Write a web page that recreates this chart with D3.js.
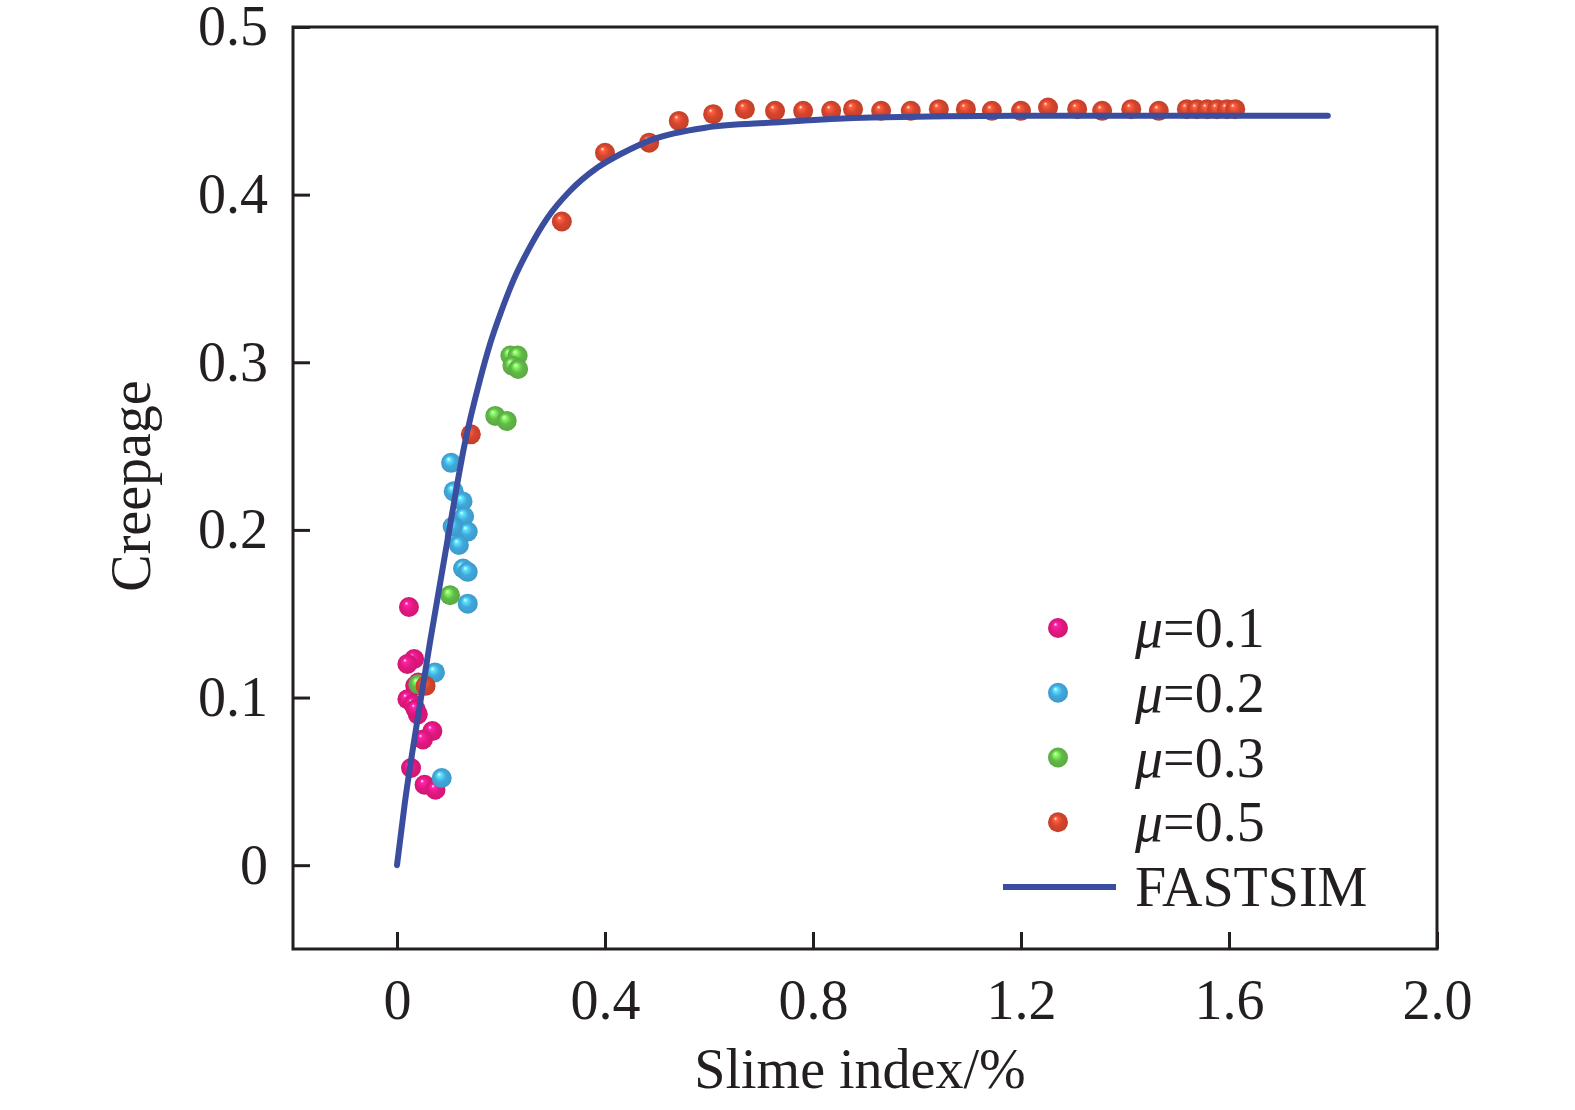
<html>

<head>
    <meta charset="utf-8">
    <style>
        html, body {
            margin: 0;
            overflow: hidden;
            background: #ffffff;
            font-family: "Liberation Serif", "DejaVu Serif", serif;
        }
        svg { display: block; }
    </style>
    <script src="https://cdn.jsdelivr.net/npm/d3@7"></script>
</head>

<body>
    <svg id="Grafico"></svg>

<script>
    // datos: [indice de lodo %, creepage]
    let puntosMu01 = [
        [0.023, 0.154], [0.033, 0.123], [0.020, 0.120], [0.035, 0.107], [0.041, 0.109],
        [0.020, 0.099], [0.031, 0.096], [0.040, 0.090], [0.036, 0.093], [0.068, 0.080],
        [0.050, 0.075], [0.027, 0.058], [0.053, 0.048], [0.074, 0.045]
    ];
    let puntosMu02 = [
        [0.104, 0.240], [0.109, 0.223], [0.126, 0.217], [0.111, 0.196], [0.129, 0.208],
        [0.136, 0.199], [0.119, 0.191], [0.107, 0.202], [0.127, 0.177], [0.136, 0.175],
        [0.136, 0.156], [0.073, 0.115], [0.086, 0.052]
    ];
    let puntosMu03 = [
        [0.218, 0.304], [0.232, 0.304], [0.222, 0.298], [0.233, 0.296], [0.189, 0.268],
        [0.211, 0.265], [0.102, 0.161], [0.041, 0.108]
    ];
    let puntosMu05 = [
        [0.142, 0.257], [0.055, 0.107], [0.317, 0.384], [0.400, 0.425], [0.485, 0.431],
        [0.542, 0.444], [0.608, 0.448], [0.669, 0.451], [0.727, 0.450], [0.781, 0.450],
        [0.835, 0.450], [0.877, 0.451], [0.931, 0.450], [0.988, 0.450], [1.042, 0.451],
        [1.094, 0.451], [1.144, 0.450], [1.200, 0.450], [1.252, 0.452], [1.308, 0.451],
        [1.356, 0.450], [1.412, 0.451], [1.465, 0.450], [1.519, 0.451], [1.538, 0.451],
        [1.558, 0.451], [1.577, 0.451], [1.596, 0.451], [1.612, 0.451]
    ];
    let curvaFastsim = [
        [0, 0], [0.015, 0.037], [0.040, 0.088], [0.064, 0.134], [0.100, 0.199],
        [0.130, 0.251], [0.160, 0.290], [0.180, 0.312], [0.200, 0.330], [0.224, 0.349],
        [0.256, 0.369], [0.289, 0.386], [0.332, 0.402], [0.385, 0.416], [0.435, 0.425],
        [0.492, 0.433], [0.595, 0.440], [0.724, 0.443], [0.913, 0.446], [1.200, 0.447],
        [1.790, 0.447]
    ];

    let ticksX = [0, 0.4, 0.8, 1.2, 1.6, 2.0];
    let etiquetasX = ["0", "0.4", "0.8", "1.2", "1.6", "2.0"];
    let ticksY = [0, 0.1, 0.2, 0.3, 0.4, 0.5];
    let etiquetasY = ["0", "0.1", "0.2", "0.3", "0.4", "0.5"];

    let series = ["μ=0.1", "μ=0.2", "μ=0.3", "μ=0.5"];
    let colores = ["#e3187f", "#42a8dc", "#62b948", "#d5452d"];
    let nombreCurva = "FASTSIM";

    let tamanoLetra = "56px";

    function configuracionGrafico () {
        let ancho = 1575;
        let alto = 1110;
        let margenes = { left: 293, top: 27, right: 1575 - 1437, bottom: 1110 - 949 };
        let anchuraCuerpo = ancho - margenes.left - margenes.right;
        let alturaCuerpo = alto - margenes.top - margenes.bottom;

        let contenedor = d3.select("#Grafico")
            .attr("width", ancho)
            .attr("height", alto);

        return { ancho, alto, margenes, anchuraCuerpo, alturaCuerpo, contenedor };
    }

    function escalasGrafico (configuracion) {
        let { anchuraCuerpo, alturaCuerpo } = configuracion;
        let escalaX = d3.scaleLinear().domain([-0.2, 2.0]).range([0, anchuraCuerpo]);
        let escalaY = d3.scaleLinear().domain([-0.05, 0.5]).range([alturaCuerpo, 0]);
        return { escalaX, escalaY };
    }

    function definirGradientes (contenedor) {
        //un degradado radial por color para que los puntos parezcan esferas
        let defs = contenedor.append("defs");
        colores.forEach((c, i) => {
            let g = defs.append("radialGradient")
                .attr("id", "esfera" + i)
                .attr("cx", "50%").attr("cy", "50%").attr("r", "50%")
                .attr("fx", "36%").attr("fy", "30%");
            g.append("stop").attr("offset", "0%").attr("stop-color", "#ffffff");
            g.append("stop").attr("offset", "18%").attr("stop-color", d3.color(c).brighter(0.9));
            g.append("stop").attr("offset", "55%").attr("stop-color", c);
            g.append("stop").attr("offset", "100%").attr("stop-color", d3.color(c).darker(0.25));
        });
    }

    function dibujarEjes (cuerpo, escalas, configuracion) {
        let { escalaX, escalaY } = escalas;
        let { anchuraCuerpo, alturaCuerpo } = configuracion;

        let ejeX = d3.axisBottom(escalaX).tickValues(ticksX)
            .tickSize(-17).tickPadding(30)
            .tickFormat((d, i) => etiquetasX[i]);
        let gX = cuerpo.append("g")
            .attr("transform", `translate(0,${alturaCuerpo})`)
            .call(ejeX);

        let ejeY = d3.axisLeft(escalaY).tickValues(ticksY)
            .tickSize(-17).tickPadding(25)
            .tickFormat((d, i) => etiquetasY[i]);
        let gY = cuerpo.append("g").call(ejeY);

        [gX, gY].forEach(g => {
            g.select(".domain").remove();
            g.selectAll("line").attr("stroke", "#231f20").attr("stroke-width", 3);
            g.selectAll("text")
                .attr("fill", "#231f20")
                .style("font-family", "'Liberation Serif', serif")
                .style("font-size", tamanoLetra);
        });

        //marco completo
        cuerpo.append("rect")
            .attr("width", anchuraCuerpo).attr("height", alturaCuerpo)
            .attr("fill", "none")
            .attr("stroke", "#231f20").attr("stroke-width", 3);
    }

    function dibujarPuntos (cuerpo, escalas) {
        let { escalaX, escalaY } = escalas;
        let grupos = [puntosMu01, puntosMu02, puntosMu03, puntosMu05];
        grupos.forEach((datos, i) => {
            cuerpo.append("g").selectAll("circle")
                .data(datos)
                .enter().append("circle")
                    .attr("cx", d => escalaX(d[0]))
                    .attr("cy", d => escalaY(d[1]))
                    .attr("r", 10)
                    .attr("fill", `url(#esfera${i})`);
        });
    }

    function dibujarCurva (cuerpo, escalas) {
        let { escalaX, escalaY } = escalas;
        let linea = d3.line()
            .x(d => escalaX(d[0]))
            .y(d => escalaY(d[1]))
            .curve(d3.curveMonotoneX);
        cuerpo.append("path")
            .datum(curvaFastsim)
            .attr("d", linea)
            .attr("fill", "none")
            .attr("stroke", "#3a4d9f")
            .attr("stroke-width", 6)
            .attr("stroke-linecap", "round");
    }

    function dibujarLeyenda (contenedor) {
        let leyenda = contenedor.append("g").style("font-family", "'Liberation Serif', serif");
        let filaY = d3.scaleLinear().domain([0, 4]).range([628, 887]);

        series.forEach((s, i) => {
            leyenda.append("circle")
                .attr("cx", 1058).attr("cy", filaY(i))
                .attr("r", 10)
                .attr("fill", `url(#esfera${i})`);
            let t = leyenda.append("text")
                .attr("x", 1135).attr("y", filaY(i) + 19)
                .attr("fill", "#231f20")
                .style("font-size", tamanoLetra);
            t.append("tspan").style("font-style", "italic").text(s.slice(0, 1));
            t.append("tspan").text(s.slice(1));
        });

        leyenda.append("line")
            .attr("x1", 1003).attr("x2", 1116)
            .attr("y1", filaY(4)).attr("y2", filaY(4))
            .attr("stroke", "#3a4d9f").attr("stroke-width", 6);
        leyenda.append("text")
            .attr("x", 1135).attr("y", filaY(4) + 19)
            .attr("fill", "#231f20")
            .style("font-size", tamanoLetra)
            .text(nombreCurva);
    }

    function dibujarTitulos (contenedor) {
        contenedor.append("text")
            .attr("x", 860).attr("y", 1088)
            .attr("text-anchor", "middle")
            .attr("fill", "#231f20")
            .style("font-size", tamanoLetra)
            .text("Slime index/%");

        contenedor.append("text")
            .attr("transform", "translate(150,486) rotate(-90)")
            .attr("text-anchor", "middle")
            .attr("fill", "#231f20")
            .style("font-size", tamanoLetra)
            .text("Creepage");
    }

    function dibujarGrafico () {
        let configuracion = configuracionGrafico();
        let escalas = escalasGrafico(configuracion);
        let { contenedor, margenes } = configuracion;

        definirGradientes(contenedor);
        let cuerpo = contenedor.append("g")
            .attr("transform", `translate(${margenes.left},${margenes.top})`);

        dibujarEjes(cuerpo, escalas, configuracion);
        dibujarPuntos(cuerpo, escalas);
        dibujarCurva(cuerpo, escalas);
        dibujarLeyenda(contenedor);
        dibujarTitulos(contenedor);
    }

    dibujarGrafico();
</script>
</body>
</html>
